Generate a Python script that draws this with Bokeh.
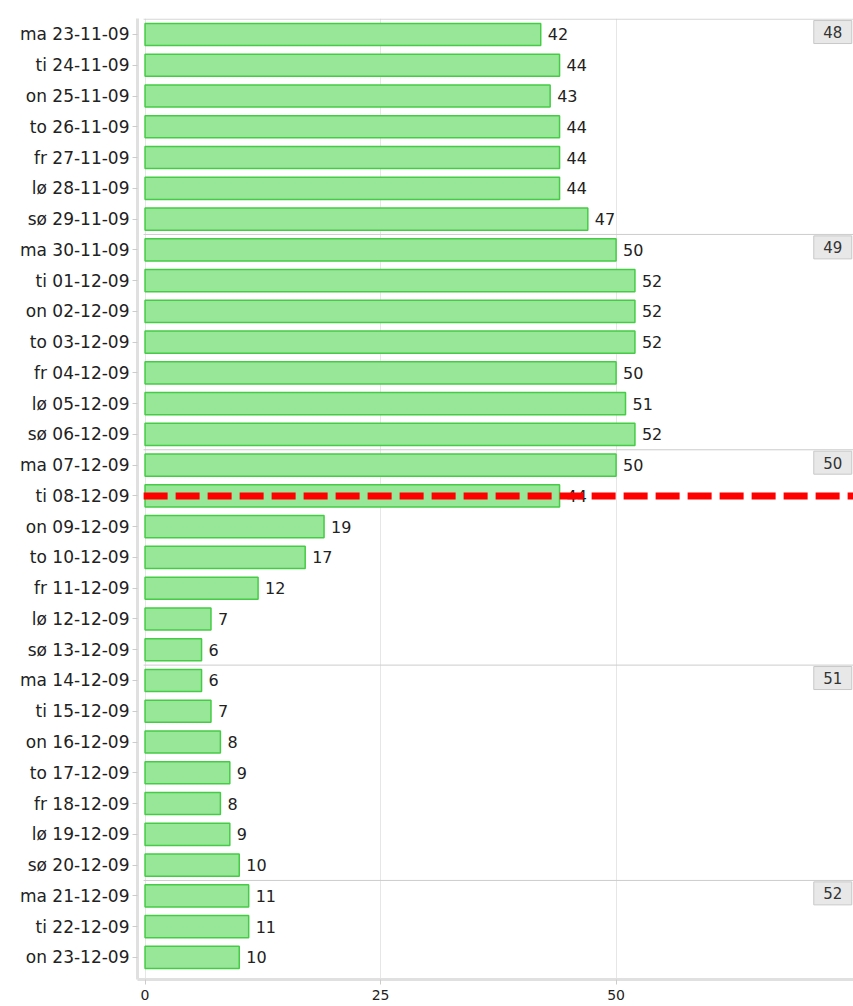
from bokeh.plotting import figure
from bokeh.models import Range1d, FixedTicker
from bokeh.embed import file_html
from bokeh.resources import INLINE
from bokeh.core.properties import value

days = ["ma 23-11-09", "ti 24-11-09", "on 25-11-09", "to 26-11-09", "fr 27-11-09",
        "lø 28-11-09", "sø 29-11-09",
        "ma 30-11-09", "ti 01-12-09", "on 02-12-09", "to 03-12-09", "fr 04-12-09",
        "lø 05-12-09", "sø 06-12-09",
        "ma 07-12-09", "ti 08-12-09", "on 09-12-09", "to 10-12-09", "fr 11-12-09",
        "lø 12-12-09", "sø 13-12-09",
        "ma 14-12-09", "ti 15-12-09", "on 16-12-09", "to 17-12-09", "fr 18-12-09",
        "lø 19-12-09", "sø 20-12-09",
        "ma 21-12-09", "ti 22-12-09", "on 23-12-09"]
counts = [42, 44, 43, 44, 44, 44, 47,
          50, 52, 52, 52, 50, 51, 52,
          50, 44, 19, 17, 12, 7, 6,
          6, 7, 8, 9, 8, 9, 10,
          11, 11, 10]
weeks = ["48", "49", "50", "51", "52"]
week_start_days = ["ma 23-11-09", "ma 30-11-09", "ma 07-12-09", "ma 14-12-09", "ma 21-12-09"]
today = "ti 08-12-09"
x_ticks = [0, 25, 50]

FONT = "DejaVu Sans"
idx = list(range(len(days)))
n = len(days)
x_end = 75.2
box_x = 73.0

p = figure(width=853, height=1006, output_backend="svg", toolbar_location=None,
           x_range=Range1d(-0.8, x_end), y_range=Range1d(n - 1 + 0.72, -0.52),
           min_border_left=137, min_border_top=18, min_border_bottom=27,
           min_border_right=0)
p.outline_line_color = None
p.background_fill_color = "white"

# axes
p.xaxis.ticker = FixedTicker(ticks=x_ticks)
p.yaxis.ticker = FixedTicker(ticks=idx)
p.yaxis.major_label_overrides = {i: d for i, d in enumerate(days)}
for ax in (p.xaxis[0], p.yaxis[0]):
    ax.axis_line_color = "#e0e0e0"
    ax.axis_line_width = 3
    ax.major_tick_line_color = "#cccccc"
    ax.major_tick_in = 0
    ax.major_tick_out = 5
    ax.minor_tick_line_color = None
    ax.major_label_text_font = FONT
    ax.major_label_text_color = "#222222"
p.yaxis.major_label_text_font_size = "17px"
p.yaxis.major_label_standoff = 3
p.xaxis.major_label_text_font_size = "14px"
p.xaxis.major_label_standoff = 5

p.ygrid.visible = False
p.xgrid.grid_line_color = "#e6e6e6"

# bars
p.hbar(y=idx, left=0, right=counts, height=0.72,
       fill_color="#98e698", line_color="#44cc44", line_width=1.5)

# value labels
p.text(x=counts, y=idx, text=[str(c) for c in counts], x_offset=7,
       text_baseline="middle", text_align="left",
       text_font=value(FONT), text_font_size="16px", text_color="#222222")

# week separators and week boxes
week_rows = [days.index(d) for d in week_start_days]
p.segment(x0=[-0.15] * len(week_rows), x1=[x_end] * len(week_rows),
          y0=[r - 0.5 for r in week_rows], y1=[r - 0.5 for r in week_rows],
          line_color="#cccccc", line_width=1)
box_y = [r - 0.5 + 0.42 for r in week_rows]
p.rect(x=[box_x] * len(week_rows), y=box_y, width=38, height=23,
       width_units="screen", height_units="screen",
       fill_color="#e8e8e8", line_color="#c8c8c8", line_width=1)
p.text(x=[box_x] * len(week_rows), y=box_y, text=weeks,
       text_align="center", text_baseline="middle",
       text_font=value(FONT), text_font_size="15px", text_color="#333333")

# today marker
t = days.index(today)
p.segment(x0=[-0.15], x1=[x_end], y0=[t], y1=[t],
          line_color="red", line_width=7, line_dash="24 8")

open("out.html", "w").write(file_html(p, INLINE))
